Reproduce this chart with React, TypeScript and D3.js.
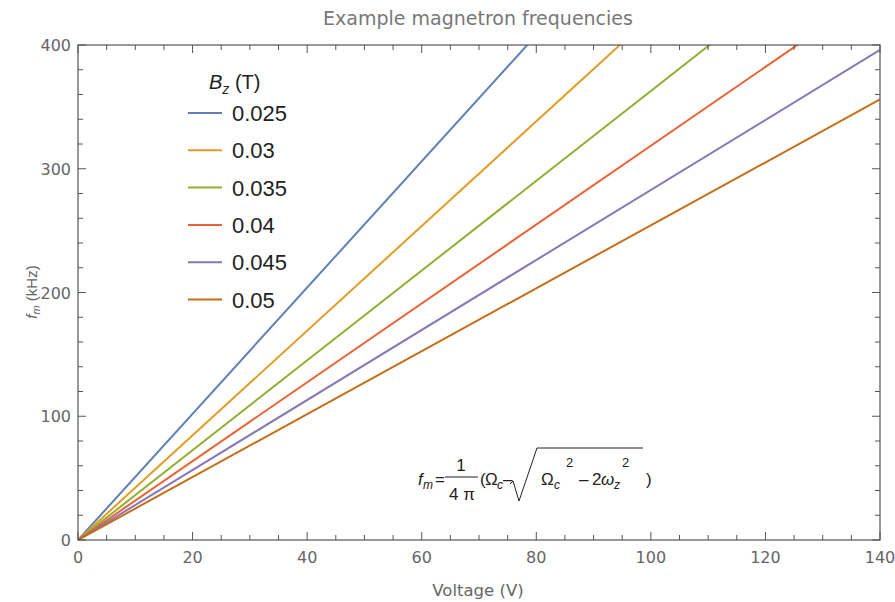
import React from "react";
import * as d3 from "d3";

const title = "Example magnetron frequencies";
const xLabel = "Voltage (V)";
const legendTitle = "(T)";
const fieldValues = ["0.025", "0.03", "0.035", "0.04", "0.045", "0.05"];
const seriesColors = ["#5E81B5", "#E19C24", "#8FB032", "#EB6235", "#8778B3", "#C56E1A"];
const voltages = [0, 140];
// f_m (kHz) at each voltage, per B_z
const freq025 = [0, 714];
const freq030 = [0, 592];
const freq035 = [0, 508];
const freq040 = [0, 446];
const freq045 = [0, 396];
const freq050 = [0, 356];
const seriesValues = [freq025, freq030, freq035, freq040, freq045, freq050];
const xMajor = [0, 20, 40, 60, 80, 100, 120, 140];
const yMajor = [0, 100, 200, 300, 400];

const W = 895, H = 602;
const L = 78, R = 880, T = 45, B = 540;

export default function App() {
  const x = d3.scaleLinear().domain([0, 140]).range([L, R]);
  const y = d3.scaleLinear().domain([0, 400]).range([B, T]);
  const line = d3.line<[number, number]>().x(d => x(d[0])).y(d => y(d[1]));
  const xMinor = d3.range(0, 141, 5).filter(v => v % 20 !== 0);
  const yMinor = d3.range(0, 401, 20).filter(v => v % 100 !== 0);
  const axisColor = "#555";
  const textColor = "#666";
  const font = "Liberation Sans, Arial, sans-serif";
  const font2 = "DejaVu Sans, sans-serif";
  return (
    <svg width={W} height={H} style={{ position: "absolute", left: 0, top: 0, background: "#fff" }} fontFamily={font}>
      <defs>
        <clipPath id="plotclip"><rect x={L} y={T} width={R - L} height={B - T} /></clipPath>
      </defs>
      <text x={478} y={25} textAnchor="middle" fontSize={19} fill="#777" fontFamily={font2}>{title}</text>
      {/* series */}
      <g clipPath="url(#plotclip)">
        {seriesValues.map((vals, i) => (
          <path key={i} d={line(voltages.map((v, j) => [v, vals[j]]) as [number, number][]) || ""}
            fill="none" stroke={seriesColors[i]} strokeWidth={2} />
        ))}
      </g>
      {/* frame */}
      <rect x={L} y={T} width={R - L} height={B - T} fill="none" stroke={axisColor} strokeWidth={1.2} />
      {/* x ticks */}
      {xMajor.map(v => (
        <g key={"xM" + v}>
          <line x1={x(v)} x2={x(v)} y1={B} y2={B - 8} stroke={axisColor} />
          <line x1={x(v)} x2={x(v)} y1={T} y2={T + 8} stroke={axisColor} />
          <text x={x(v)} y={B + 23} textAnchor="middle" fontSize={16} fill={textColor} fontFamily={font2}>{v}</text>
        </g>
      ))}
      {xMinor.map(v => (
        <g key={"xm" + v}>
          <line x1={x(v)} x2={x(v)} y1={B} y2={B - 5} stroke={axisColor} />
          <line x1={x(v)} x2={x(v)} y1={T} y2={T + 5} stroke={axisColor} />
        </g>
      ))}
      {yMajor.map(v => (
        <g key={"yM" + v}>
          <line x1={L} x2={L + 8} y1={y(v)} y2={y(v)} stroke={axisColor} />
          <line x1={R} x2={R - 8} y1={y(v)} y2={y(v)} stroke={axisColor} />
          <text x={L - 7} y={y(v) + 6} textAnchor="end" fontSize={16} fill={textColor} fontFamily={font2}>{v}</text>
        </g>
      ))}
      {yMinor.map(v => (
        <g key={"ym" + v}>
          <line x1={L} x2={L + 5} y1={y(v)} y2={y(v)} stroke={axisColor} />
          <line x1={R} x2={R - 5} y1={y(v)} y2={y(v)} stroke={axisColor} />
        </g>
      ))}
      {/* axis labels */}
      <text x={478} y={596} textAnchor="middle" fontSize={16.5} fill={textColor} fontFamily={font2}>{xLabel}</text>
      <text transform="translate(37,292) rotate(-90)" textAnchor="middle" fontSize={15} fill={textColor}>
        <tspan fontStyle="italic">f</tspan>
        <tspan fontStyle="italic" fontSize={11} dy={3}>m</tspan>
        <tspan dy={-3}> (kHz)</tspan>
      </text>
      {/* legend */}
      <text x={209} y={89} fontSize={20} fill="#222">
        <tspan fontStyle="italic">B</tspan>
        <tspan fontStyle="italic" fontSize={14} dy={5}>z</tspan>
        <tspan dy={-5}> {legendTitle}</tspan>
      </text>
      {fieldValues.map((lab, i) => (
        <g key={lab} transform={`translate(0,${113 + i * 37.3})`}>
          <line x1={188} x2={222} y1={0} y2={0} stroke={seriesColors[i]} strokeWidth={2} />
          <text x={232} y={8} fontSize={22} fill="#222">{lab}</text>
        </g>
      ))}
      {/* formula */}
      <g fontSize={17} fill="#222">
        <text x={418} y={485} fontStyle="italic">f</text>
        <text x={423} y={489} fontStyle="italic" fontSize={12}>m</text>
        <text x={435} y={485}>=</text>
        <line x1={445} x2={478} y1={477} y2={477} stroke="#222" strokeWidth={1} />
        <text x={461} y={471} textAnchor="middle">1</text>
        <text x={462} y={500} textAnchor="middle">4 π</text>
        <text x={480} y={485}>(</text>
        <text x={485} y={485}>Ω</text>
        <text x={497} y={489} fontStyle="italic" fontSize={12}>c</text>
        <text x={503} y={485}>–</text>
        <path d="M510,484 L513,481 L519,501 L537,448 L643,448" fill="none" stroke="#222" strokeWidth={1} />
        <text x={541} y={485}>Ω</text>
        <text x={554} y={489} fontStyle="italic" fontSize={12}>c</text>
        <text x={566} y={467} fontSize={13}>2</text>
        <text x={579} y={485}>–</text>
        <text x={592} y={485}>2</text>
        <text x={601} y={485} fontStyle="italic">ω</text>
        <text x={614} y={489} fontStyle="italic" fontSize={12}>z</text>
        <text x={622} y={467} fontSize={13}>2</text>
        <text x={646} y={485}>)</text>
      </g>
    </svg>
  );
}
